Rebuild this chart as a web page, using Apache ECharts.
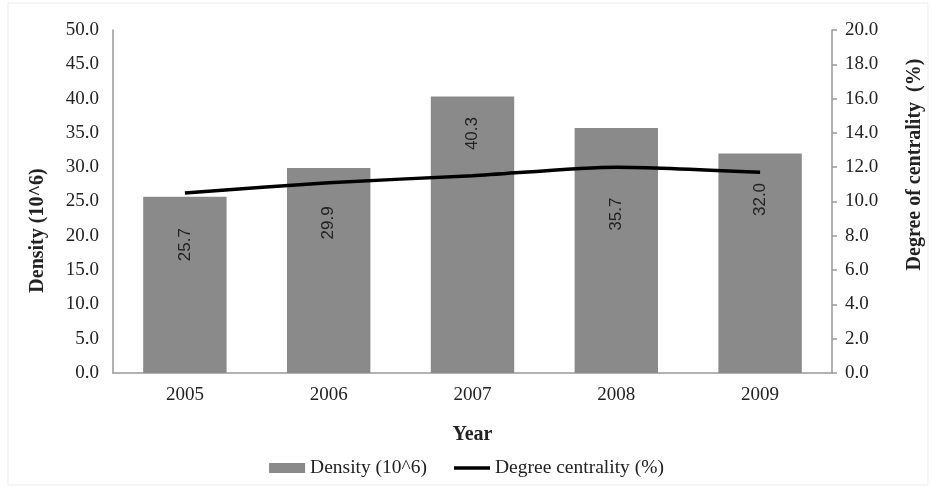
<!DOCTYPE html>
<html>
<head>
<meta charset="utf-8">
<script src="https://cdn.jsdelivr.net/npm/echarts@6/dist/echarts.min.js"></script>
<style>html,body{margin:0;padding:0;background:#fff}#c{width:933px;height:488px}</style>
</head>
<body>
<div id="c"></div>
<script>
const years = ['2005', '2006', '2007', '2008', '2009'];
const density = [25.7, 29.9, 40.3, 35.7, 32.0];
const centrality = [10.5, 11.1, 11.5, 12.0, 11.7];
const leftTicks = {min: 0, max: 50, interval: 5};
const rightTicks = {min: 0, max: 20, interval: 2};
// label placement below each bar top (pixels), as positioned in the reference
const labelDrop = [48, 55, 37, 86, 46];

const serif = '"Liberation Serif", "Times New Roman", serif';
const chart = echarts.init(document.getElementById('c'));
chart.setOption({
  animation: false,
  backgroundColor: '#fff',
  graphic: [{type: 'rect', shape: {x: 8, y: 3, width: 920, height: 482}, style: {fill: 'none', stroke: '#ececec', lineWidth: 1}, silent: true}],
  grid: {left: 113, right: 101, top: 30, bottom: 115},
  legend: {
    bottom: 5, left: 'center', itemGap: 27, itemWidth: 36, itemHeight: 10,
    textStyle: {fontFamily: serif, fontSize: 19.5, color: '#222'},
    data: [
      {name: 'Density (10^6)', icon: 'rect'},
      {name: 'Degree centrality (%)', icon: 'path://M0,0 L36,0 L36,3.5 L0,3.5 Z', itemStyle: {color: '#000'}}
    ]
  },
  xAxis: {
    type: 'category', data: years,
    name: 'Year', nameLocation: 'middle', nameGap: 52,
    nameTextStyle: {fontFamily: serif, fontSize: 20, fontWeight: 'bold', color: '#222'},
    axisLine: {lineStyle: {color: '#999', width: 1.5}},
    axisTick: {show: false},
    axisLabel: {fontFamily: serif, fontSize: 19, color: '#222', margin: 13}
  },
  yAxis: [{
    type: 'value', min: leftTicks.min, max: leftTicks.max, interval: leftTicks.interval,
    name: 'Density (10^6)', nameLocation: 'middle', nameGap: 65, nameRotate: 90,
    nameTextStyle: {fontFamily: serif, fontSize: 20, fontWeight: 'bold', color: '#222', padding: [0, 58, 0, 0]},
    axisLine: {show: true, lineStyle: {color: '#999', width: 1.5}},
    axisTick: {show: false},
    splitLine: {show: false},
    axisLabel: {fontFamily: serif, fontSize: 19, color: '#222', margin: 14, formatter: v => v.toFixed(1)}
  }, {
    type: 'value', position: 'right', min: rightTicks.min, max: rightTicks.max, interval: rightTicks.interval,
    name: 'Degree of centrality  (%)', nameLocation: 'middle', nameGap: 73, nameRotate: 90,
    nameTextStyle: {fontFamily: serif, fontSize: 20, fontWeight: 'bold', color: '#222', padding: [0, 0, 0, 74]},
    axisLine: {show: true, lineStyle: {color: '#999', width: 1.5}},
    axisTick: {show: true, length: 5, lineStyle: {color: '#999', width: 1.5}},
    splitLine: {show: false},
    axisLabel: {fontFamily: serif, fontSize: 19, color: '#222', margin: 13, formatter: v => v.toFixed(1)}
  }],
  series: [{
    name: 'Density (10^6)', type: 'bar', yAxisIndex: 0, barCategoryGap: '42%',
    itemStyle: {color: '#8a8a8a'},
    data: density.map((v, i) => ({
      value: v,
      label: {show: true, position: ['50%', labelDrop[i]], rotate: 90, align: 'center', verticalAlign: 'middle',
        fontFamily: '"Liberation Sans", Arial, sans-serif', fontSize: 17, color: '#222',
        formatter: p => p.value.toFixed(1)}
    }))
  }, {
    name: 'Degree centrality (%)', type: 'line', yAxisIndex: 1, smooth: 0.25,
    symbol: 'none', lineStyle: {color: '#000', width: 3.5}, itemStyle: {color: '#000'},
    data: centrality
  }]
});
</script>
</body>
</html>
